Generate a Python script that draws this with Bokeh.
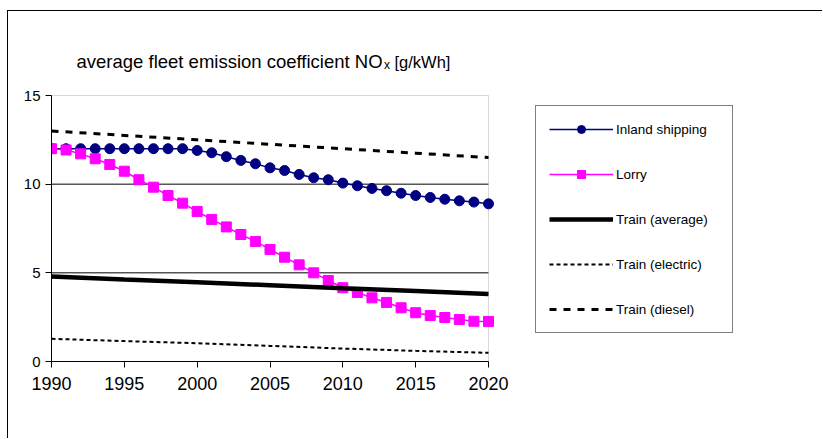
from bokeh.plotting import figure
from bokeh.models import Range1d, Legend, LegendItem, FixedTicker, Label, BoxAnnotation
from bokeh.embed import file_html
from bokeh.resources import INLINE

# Yearly series
years = list(range(1990, 2021))
inland_shipping = [12.0, 12.0, 12.0, 12.0, 12.0, 12.0, 12.0, 12.0, 12.0, 12.0,
                   11.9, 11.77, 11.55, 11.34, 11.15, 10.92, 10.77, 10.55, 10.36, 10.25,
                   10.06, 9.91, 9.76, 9.63, 9.49, 9.36, 9.25, 9.15, 9.06, 8.99, 8.89]
lorry = [12.0, 11.93, 11.71, 11.43, 11.11, 10.73, 10.25, 9.83, 9.36, 8.93,
         8.46, 8.01, 7.59, 7.16, 6.77, 6.32, 5.88, 5.45, 5.0, 4.57,
         4.16, 3.89, 3.59, 3.33, 3.03, 2.75, 2.59, 2.48, 2.37, 2.27, 2.26]

# Train series, five-year steps
years_5 = [1990, 1995, 2000, 2005, 2010, 2015, 2020]
train_average = [4.8, 4.63, 4.47, 4.3, 4.13, 3.97, 3.8]
train_electric = [1.28, 1.15, 1.03, 0.88, 0.73, 0.6, 0.49]
train_diesel = [13.0, 12.75, 12.5, 12.25, 12.0, 11.75, 11.5]

x_ticks = [1990, 1995, 2000, 2005, 2010, 2015, 2020]
y_ticks = [0, 5, 10, 15]
grid_levels = [5, 10]
series_names = ["Inland shipping", "Lorry", "Train (average)", "Train (electric)", "Train (diesel)"]
title_main, title_sub, title_unit = "average fleet emission coefficient NO", "x", "[g/kWh]"

FONT = "Liberation Sans"

# Canvas and plot-area geometry (px)
CANVAS_W, CANVAS_H = 815, 428
LEFT, BOTTOM = 43, 78
AREA_W, AREA_H = 437, 266
x0, x1 = x_ticks[0], x_ticks[-1]
y0, y1 = y_ticks[0], y_ticks[-1]
px_x = AREA_W / (x1 - x0)
px_y = AREA_H / (y1 - y0)
# the frame runs to the canvas' right and top edges so the legend and title can live in it
x_end = x0 + (CANVAS_W - LEFT) / px_x
y_end = y0 + (CANVAS_H - BOTTOM) / px_y

p = figure(width=CANVAS_W, height=CANVAS_H, output_backend="svg", toolbar_location=None,
           x_range=Range1d(x0, x_end), y_range=Range1d(y0, y_end),
           min_border_left=LEFT, min_border_right=0, min_border_top=0, min_border_bottom=BOTTOM,
           margin=(10, 0, 0, 7),
           styles={"border-top": "1px solid black", "border-left": "1px solid black"})
p.background_fill_color = "white"
p.border_fill_color = "white"
p.outline_line_color = None
p.grid.visible = False

p.xaxis.ticker = FixedTicker(ticks=x_ticks)
p.yaxis.ticker = FixedTicker(ticks=y_ticks)
p.xaxis.bounds = (x0, x1)
p.yaxis.bounds = (y0, y1)
for ax in (p.xaxis, p.yaxis):
    ax.axis_line_color = "black"
    ax.major_tick_line_color = "black"
    ax.major_tick_in = 0
    ax.major_tick_out = 6
    ax.minor_tick_line_color = None
    ax.major_label_text_font = FONT
    ax.major_label_text_color = "black"
p.xaxis.major_label_text_font_size = "18px"
p.xaxis.major_label_standoff = 9
p.yaxis.major_label_text_font_size = "15px"
p.yaxis.major_label_standoff = 5

# plot-area border (grey) and horizontal gridlines limited to the plot area
p.add_layout(BoxAnnotation(left=x0, right=x1, bottom=y0, top=y1, level="underlay",
                           fill_alpha=0, line_color="#808080", line_width=1))
p.segment(x0=[x0] * len(grid_levels), x1=[x1] * len(grid_levels),
          y0=grid_levels, y1=grid_levels, line_color="black", line_width=1, level="underlay")

r_ship_line = p.line(years, inland_shipping, line_color="#000080", line_width=1.5)
r_ship_pts = p.scatter(years, inland_shipping, marker="circle", size=10,
                       fill_color="#000080", line_color="#000080")
r_lorry_line = p.line(years, lorry, line_color="#FF00FF", line_width=1.5)
r_lorry_pts = p.scatter(years, lorry, marker="square", size=10,
                        fill_color="#FF00FF", line_color="#FF00FF")
r_avg = p.line(years_5, train_average, line_color="black", line_width=4.5)
r_el = p.line(years_5, train_electric, line_color="black", line_width=2, line_dash="4 3")
r_dies = p.line(years_5, train_diesel, line_color="black", line_width=3, line_dash="7 7")

legend = Legend(items=[
    LegendItem(label=series_names[0], renderers=[r_ship_line, r_ship_pts]),
    LegendItem(label=series_names[1], renderers=[r_lorry_line, r_lorry_pts]),
    LegendItem(label=series_names[2], renderers=[r_avg]),
    LegendItem(label=series_names[3], renderers=[r_el]),
    LegendItem(label=series_names[4], renderers=[r_dies]),
], location=(484, 28))
legend.padding = 13
legend.margin = 0
legend.spacing = 25
legend.glyph_width = 64
legend.glyph_height = 20
legend.label_height = 20
legend.label_width = 103
legend.label_standoff = 3
legend.label_text_font = FONT
legend.label_text_font_size = "13.5px"
legend.label_text_color = "black"
legend.border_line_color = "black"
legend.border_line_width = 1
legend.background_fill_alpha = 0
p.add_layout(legend, "center")

# Title with a subscripted x, placed above the plot area
title_base = y1 + 34 / px_y
for txt, dx, dy, size in [(title_main, 25, 0, "18.5px"),
                          (title_sub, 332.5, -3, "12px"),
                          (title_unit, 343, 0, "16.5px")]:
    p.add_layout(Label(x=x0 + dx / px_x, y=title_base + dy / px_y, text=txt,
                       text_font=FONT, text_font_size=size, text_color="black",
                       text_baseline="alphabetic", text_align="left"))

open("out.html", "w").write(file_html(p, INLINE))
